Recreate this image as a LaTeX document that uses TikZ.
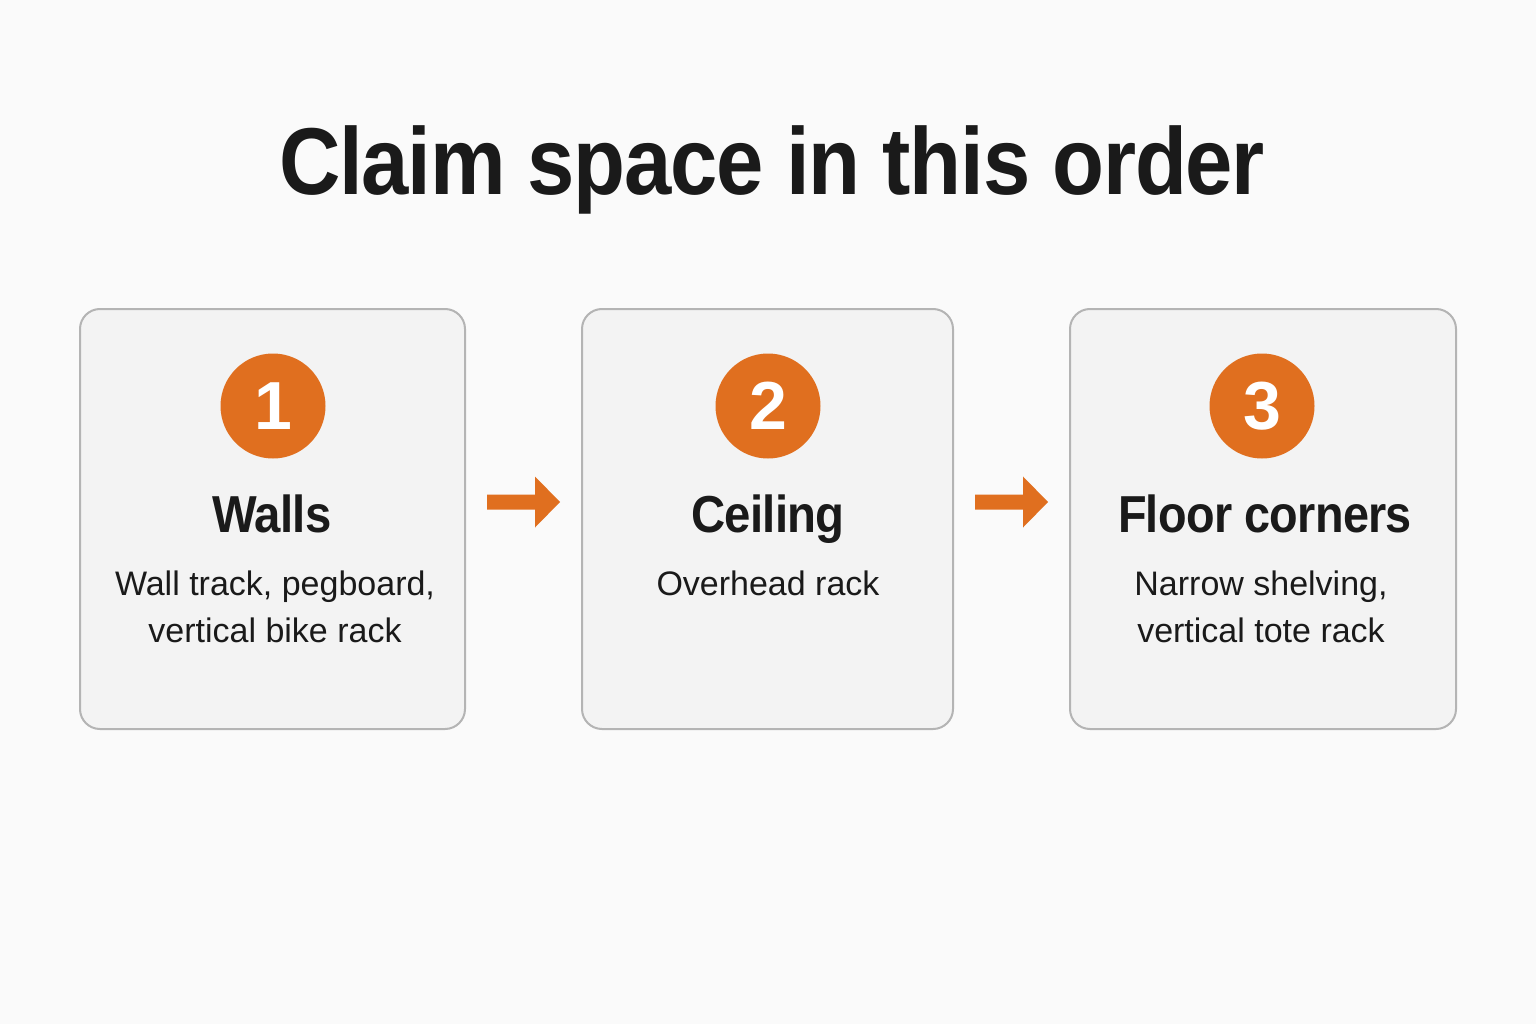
\documentclass[tikz,border=0pt]{standalone}
\usepackage{fontspec}
\setmainfont{Liberation Sans}
\newfontfamily\tightfont[LetterSpace=-1.5]{Liberation Sans}
\definecolor{bg}{HTML}{FAFAFA}
\definecolor{boxfill}{HTML}{F3F3F3}
\definecolor{boxline}{HTML}{B4B4B4}
\definecolor{accent}{HTML}{E06F1F}
\definecolor{ink}{HTML}{1A1A1A}
\newcommand{\narrow}[2]{\scalebox{#1}[1]{#2}}
\begin{document}
\begin{tikzpicture}[x=1pt,y=-1pt,
  card/.style={draw=boxline,line width=2pt,fill=boxfill,rounded corners=20pt},
  badge/.style={circle,fill=accent,minimum size=105pt,inner sep=0pt,text=white,font=\fontsize{68}{68}\selectfont\bfseries},
  heading/.style={text=ink,font=\tightfont\fontsize{52}{56}\selectfont\bfseries,inner sep=0pt,anchor=base},
  body/.style={text=ink,font=\fontsize{34}{47}\selectfont,align=center,inner sep=0pt,anchor=north},
  flow/.style={fill=accent,draw=none}]
\fill[bg] (0,0) rectangle (1536,1024);
\useasboundingbox (0,0) rectangle (1536,1024);
\node[text=ink,font=\tightfont\fontsize{95}{96}\selectfont\bfseries,inner sep=0pt,anchor=base] (title) at (772,195) {\narrow{0.895}{Claim space in this order}};
% cards
\draw[card] (80,309) rectangle (465,729);
\draw[card] (582,309) rectangle (953,729);
\draw[card] (1070,309) rectangle (1456,729);
\node[badge] (b1) at (273,406) {1};
\node[badge] (b2) at (768,406) {2};
\node[badge] (b3) at (1262,406) {3};
\node[heading] (h1) at (272,532) {\narrow{0.91}{Walls}};
\node[heading] (h2) at (768,532) {\narrow{0.91}{Ceiling}};
\node[heading] (h3) at (1265,532) {\narrow{0.9}{Floor corners}};
\node[body] (t1) at (275,571) {Wall track, pegboard,\\vertical bike rack};
\node[body] (t2) at (768,571) {Overhead rack};
\node[body] (t3) at (1261,571) {Narrow shelving,\\vertical tote rack};
% arrows
\coordinate (a1) at (487,502);
\coordinate (a2) at (975,502);
\foreach \c in {a1,a2}{
  \fill[flow] ([yshift=7.5pt]\c) -- ++(48,0) -- ++(0,-18) -- ++(25,25.5) -- ++(-25,25.5) -- ++(0,-18) -- ++(-48,0) -- cycle;
}
\end{tikzpicture}
\end{document}
